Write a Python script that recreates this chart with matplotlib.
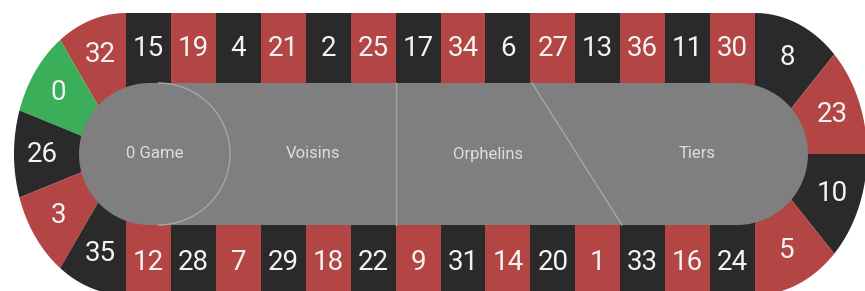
import numpy as np
import matplotlib.pyplot as plt
from matplotlib.patches import Polygon, Rectangle, Arc

plt.switch_backend('Agg')

# racetrack numbers
top_numbers = [15, 19, 4, 21, 2, 25, 17, 34, 6, 27, 13, 36, 11, 30]
bottom_numbers = [12, 28, 7, 29, 18, 22, 9, 31, 14, 20, 1, 33, 16, 24]
left_numbers = [32, 0, 26, 3, 35]      # top -> bottom
right_numbers = [8, 23, 10, 5]         # top -> bottom
red_numbers = [1, 3, 5, 7, 9, 12, 14, 16, 18, 19, 21, 23, 25, 27, 30, 32, 34, 36]
section_names = ["0 Game", "Voisins", "Orphelins", "Tiers"]

RED, BLACK, GREEN, GREY = "#b34545", "#2a2a2a", "#3aae59", "#7f7f7f"


def cell_color(n):
    if n == 0:
        return GREEN
    return RED if n in red_numbers else BLACK


fig = plt.figure(figsize=(8.65, 2.91), dpi=100)
ax = fig.add_axes([0, 0, 1, 1])
ax.set_xlim(0, 865)
ax.set_ylim(291, 0)
ax.axis('off')

# geometry (pixels)
x0, x1 = 126, 755          # straight part of the track
y_top, y_bot = 13, 295     # outer edge
cy = 154
in_top, in_bot = 83, 225   # inner grey field
in_r = 71
rx, ry = 112, 141
num_font = dict(family='Roboto', fontsize=20, color='#f4f4f4', ha='center', va='center')

# straight cells
w = (x1 - x0) / len(top_numbers)
for i, n in enumerate(top_numbers):
    ax.add_patch(Rectangle((x0 + i * w, y_top), w, cy - y_top, color=cell_color(n), lw=0))
    ax.text(x0 + (i + 0.5) * w, in_top - 35, str(n), **num_font)
for i, n in enumerate(bottom_numbers):
    ax.add_patch(Rectangle((x0 + i * w, cy), w, y_bot - cy, color=cell_color(n), lw=0))
    ax.text(x0 + (i + 0.5) * w, in_bot + 38, str(n), **num_font)


def cap(cx, numbers, t_start, t_end):
    edges = np.linspace(t_start, t_end, len(numbers) + 1)
    for k, n in enumerate(numbers):
        t = np.radians(np.linspace(edges[k], edges[k + 1], 40))
        pts = [(cx, cy)] + list(zip(cx + rx * np.cos(t), cy - ry * np.sin(t)))
        ax.add_patch(Polygon(pts, closed=True, color=cell_color(n), lw=0))
        tm = np.radians((edges[k] + edges[k + 1]) / 2)
        ax.text(cx + 0.75 * rx * np.cos(tm), cy - 0.74 * ry * np.sin(tm), str(n), **num_font)


cap(x0, left_numbers, 90, 270)
cap(x1, right_numbers, 90, -90)

# inner grey stadium
lc, rc = 150, 737
a1 = np.radians(np.linspace(90, 270, 60))
a2 = np.radians(np.linspace(-90, 90, 60))
pts = list(zip(lc + in_r * np.cos(a1), cy - in_r * np.sin(a1))) + \
      list(zip(rc + in_r * np.cos(a2), cy - in_r * np.sin(a2)))
ax.add_patch(Polygon(pts, closed=True, color=GREY, lw=0))

# section dividers
line_kw = dict(color='#a6a6a6', lw=1)
ax.add_patch(Arc((158, cy), 144, 142, theta1=-90, theta2=90, **line_kw))
ax.plot([396, 396], [in_top, in_bot], **line_kw)
ax.plot([532, 622], [in_top, in_bot], **line_kw)

label_x = [155, 313, 488, 697]
for lx, name in zip(label_x, section_names):
    ax.text(lx, cy, name, family='Roboto', fontsize=12, color='#dedede', ha='center', va='center')

plt.savefig("out.png", dpi=100)
